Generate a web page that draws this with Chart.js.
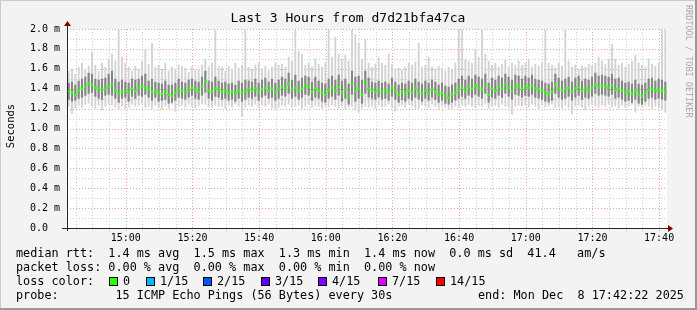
<!DOCTYPE html>
<html>
<head>
<meta charset="utf-8">
<script src="https://cdn.jsdelivr.net/npm/chart.js@4/dist/chart.umd.min.js"></script>
<style>
  html, body { margin: 0; padding: 0; background: #f3f3f3; }
  canvas { display: block; }
</style>
</head>
<body>
<canvas id="chartSmoke" width="697" height="310"></canvas>
<script>
// time axis in minutes since 14:00, one sample per minute
const startMinute = 42 + 22 / 60;
const endMinute = startMinute + 180;
const tickMinutes = [60, 80, 100, 120, 140, 160, 180, 200, 220];

const medianRtt = [
  1.37,1.36,1.34,1.38,1.40,1.42,1.45,1.44,1.41,1.40,1.39,1.40,1.43,1.44,1.38,1.35,1.37,1.38,1.36,1.40,1.38,1.41,1.42,1.41,1.39,1.37,1.38,1.36,1.35,1.37,1.34,1.33,1.36,1.39,1.38,1.36,1.40,1.41,1.39,1.37,1.42,1.48,1.38,1.37,1.40,1.39,
  1.37,1.38,1.36,1.37,1.35,1.38,1.36,1.37,1.39,1.38,1.40,1.37,1.39,1.41,1.38,1.40,1.36,1.39,1.42,1.40,1.45,1.39,1.41,1.38,1.40,1.43,1.42,1.37,1.40,1.38,1.36,1.34,1.39,1.41,1.38,1.42,1.36,1.39,1.32,1.45,1.38,1.40,1.34,1.46,1.40,
  1.38,1.37,1.39,1.37,1.38,1.36,1.41,1.38,1.34,1.37,1.35,1.38,1.36,1.40,1.37,1.35,1.38,1.36,1.39,1.37,1.34,1.36,1.33,1.31,1.34,1.36,1.39,1.41,1.38,1.42,1.40,1.43,1.41,1.39,1.44,1.34,1.40,1.38,1.42,1.40,1.44,1.41,1.38,1.43,1.42,
  1.40,1.42,1.41,1.43,1.40,1.39,1.38,1.36,1.35,1.37,1.44,1.40,1.38,1.39,1.41,1.37,1.40,1.42,1.38,1.40,1.39,1.41,1.44,1.42,1.43,1.42,1.41,1.43,1.39,1.40,1.38,1.36,1.37,1.35,1.38,1.34,1.33,1.36,1.39,1.40,1.38,1.39,1.38,1.37
];
const smokeMax = [
  1.58,1.60,1.55,1.62,1.66,1.60,1.63,1.77,1.64,1.58,1.66,1.62,1.70,1.75,1.68,1.99,1.72,1.66,1.62,1.58,1.63,1.60,1.68,1.79,1.65,1.86,1.62,1.64,1.60,1.66,1.58,1.62,1.60,1.64,1.63,1.61,1.57,1.62,1.59,1.60,1.64,1.70,1.62,1.66,1.99,1.63,
  1.62,1.58,1.63,1.60,1.66,1.61,1.64,1.99,1.62,1.60,1.64,1.66,1.60,1.63,1.58,1.62,1.66,1.64,1.65,1.62,1.72,1.68,1.99,1.78,1.75,1.64,1.66,1.62,1.70,1.65,1.62,1.66,1.99,1.72,1.92,1.75,1.70,1.74,1.68,1.99,1.95,1.86,1.70,1.90,1.66,
  1.62,1.65,1.72,1.66,1.64,1.75,1.65,1.60,1.61,1.59,1.62,1.66,1.64,1.67,1.86,1.62,1.64,1.72,1.62,1.60,1.63,1.61,1.58,1.62,1.60,1.66,1.99,1.99,1.70,1.68,1.66,1.80,1.72,1.99,1.75,1.68,1.64,1.66,1.62,1.65,1.70,1.62,1.66,1.64,1.68,
  1.64,1.66,1.70,1.62,1.65,1.63,1.66,1.99,1.66,1.64,1.62,1.66,1.63,1.99,1.68,1.62,1.64,1.60,1.63,1.62,1.65,1.63,1.66,1.72,1.68,1.65,1.70,1.85,1.70,1.64,1.66,1.62,1.65,1.68,1.74,1.66,1.64,1.62,1.70,1.65,1.63,1.66,1.99,1.99
];
const smokeMin = [
  1.22,1.15,1.20,1.23,1.21,1.24,1.25,1.22,1.20,1.23,1.18,1.22,1.24,1.23,1.21,1.19,1.22,1.20,1.21,1.24,1.22,1.23,1.25,1.21,1.22,1.20,1.23,1.21,1.19,1.22,1.20,1.24,1.17,1.22,1.23,1.21,1.24,1.22,1.20,1.23,1.25,1.24,1.22,1.21,1.23,1.22,
  1.22,1.20,1.23,1.21,1.24,1.22,1.12,1.21,1.23,1.22,1.24,1.21,1.23,1.22,1.24,1.20,1.19,1.21,1.23,1.22,1.24,1.21,1.22,1.23,1.20,1.22,1.24,1.21,1.23,1.22,1.20,1.22,1.21,1.23,1.22,1.20,1.22,1.19,1.21,1.22,1.18,1.16,1.20,1.22,1.21,
  1.22,1.20,1.23,1.21,1.22,1.24,1.21,1.17,1.22,1.23,1.21,1.24,1.22,1.20,1.20,1.23,1.22,1.21,1.24,1.22,1.20,1.22,1.21,1.19,1.20,1.22,1.21,1.23,1.22,1.24,1.22,1.21,1.23,1.22,1.24,1.20,1.22,1.23,1.21,1.24,1.22,1.21,1.14,1.22,1.23,
  1.22,1.23,1.21,1.24,1.22,1.20,1.23,1.21,1.22,1.24,1.21,1.22,1.20,1.23,1.21,1.14,1.22,1.23,1.21,1.18,1.22,1.24,1.22,1.21,1.23,1.22,1.24,1.21,1.22,1.20,1.23,1.21,1.22,1.24,1.16,1.22,1.21,1.23,1.22,1.20,1.22,1.21,1.19,1.16
];
const innerHigh = [
  1.46,1.47,1.44,1.48,1.50,1.52,1.56,1.55,1.50,1.49,1.50,1.51,1.55,1.58,1.50,1.47,1.49,1.47,1.46,1.50,1.49,1.50,1.53,1.55,1.48,1.50,1.47,1.46,1.45,1.48,1.44,1.44,1.46,1.50,1.47,1.46,1.49,1.50,1.48,1.47,1.52,1.58,1.48,1.47,1.52,1.48,
  1.46,1.47,1.45,1.46,1.44,1.48,1.46,1.49,1.48,1.47,1.50,1.46,1.49,1.51,1.47,1.50,1.46,1.49,1.52,1.50,1.56,1.49,1.54,1.48,1.51,1.53,1.52,1.47,1.52,1.48,1.46,1.45,1.50,1.53,1.49,1.54,1.48,1.50,1.45,1.58,1.52,1.53,1.49,1.58,1.51,
  1.47,1.46,1.48,1.46,1.47,1.45,1.51,1.47,1.44,1.46,1.45,1.48,1.46,1.50,1.47,1.45,1.48,1.46,1.49,1.47,1.44,1.46,1.43,1.42,1.44,1.46,1.50,1.53,1.49,1.53,1.50,1.54,1.52,1.50,1.55,1.46,1.51,1.49,1.53,1.51,1.55,1.52,1.49,1.54,1.53,
  1.50,1.53,1.51,1.54,1.50,1.49,1.48,1.46,1.45,1.47,1.55,1.51,1.48,1.50,1.52,1.47,1.51,1.53,1.48,1.50,1.49,1.52,1.56,1.53,1.54,1.53,1.52,1.55,1.50,1.51,1.48,1.46,1.47,1.45,1.49,1.45,1.44,1.46,1.50,1.51,1.48,1.50,1.49,1.47
];
const innerLow = [
  1.29,1.27,1.28,1.30,1.31,1.33,1.35,1.36,1.32,1.30,1.29,1.33,1.34,1.33,1.30,1.26,1.30,1.31,1.27,1.32,1.30,1.33,1.32,1.34,1.31,1.28,1.31,1.27,1.28,1.29,1.25,1.26,1.28,1.31,1.30,1.29,1.31,1.33,1.30,1.29,1.33,1.36,1.30,1.28,1.32,1.31,
  1.29,1.30,1.28,1.29,1.27,1.30,1.27,1.29,1.31,1.30,1.32,1.28,1.31,1.33,1.30,1.31,1.28,1.30,1.33,1.32,1.35,1.30,1.32,1.29,1.31,1.34,1.33,1.28,1.31,1.30,1.27,1.26,1.30,1.32,1.29,1.33,1.27,1.30,1.24,1.34,1.27,1.30,1.25,1.35,1.31,
  1.30,1.29,1.31,1.29,1.30,1.28,1.32,1.29,1.26,1.29,1.27,1.30,1.28,1.31,1.29,1.27,1.30,1.28,1.31,1.29,1.26,1.28,1.25,1.24,1.26,1.28,1.30,1.32,1.30,1.33,1.31,1.34,1.32,1.30,1.35,1.26,1.31,1.30,1.33,1.31,1.35,1.32,1.29,1.34,1.33,
  1.31,1.33,1.32,1.34,1.31,1.30,1.29,1.27,1.26,1.28,1.35,1.31,1.29,1.30,1.32,1.28,1.31,1.33,1.29,1.31,1.30,1.32,1.35,1.33,1.34,1.33,1.32,1.34,1.30,1.31,1.29,1.27,1.28,1.26,1.29,1.25,1.24,1.27,1.30,1.31,1.29,1.30,1.29,1.28
];

const titleText = "Last 3 Hours from d7d21bfa47ca";
const legendRows = [
  "median rtt:  1.4 ms avg  1.5 ms max  1.3 ms min  1.4 ms now  0.0 ms sd  41.4   am/s",
  "packet loss: 0.00 % avg  0.00 % max  0.00 % min  0.00 % now",
  "loss color:",
  "probe:        15 ICMP Echo Pings (56 Bytes) every 30s",
];
const endText = "end: Mon Dec  8 17:42:22 2025";
const lossLabels = ["0", "1/15", "2/15", "3/15", "4/15", "7/15", "14/15"];
const lossColors = ["#26ff00", "#00b8ff", "#0059ff", "#5e00ff", "#7e00ff", "#dd00ff", "#ff0000"];

const MONO = "'DejaVu Sans Mono', monospace";
const sampleX = medianRtt.map((_, i) => startMinute + i + 0.5);
const pad2 = (n) => String(n).padStart(2, "0");

const rrdLook = {
  id: "rrdLook",
  beforeDraw(chart) {
    const { ctx, chartArea: a } = chart;
    ctx.save();
    ctx.fillStyle = "#f3f3f3";
    ctx.fillRect(0, 0, chart.width, chart.height);
    ctx.fillStyle = "#ffffff";
    ctx.fillRect(a.left, a.top, a.right - a.left, a.bottom - a.top);
    ctx.restore();
  },
  beforeDatasetsDraw(chart) {
    const { ctx, chartArea: a, scales } = chart;
    const x = scales.x, y = scales.y;
    ctx.save();
    ctx.lineWidth = 1;
    ctx.setLineDash([1, 2]);
    for (let k = 1; k <= 20; k++) {
      const py = Math.round(y.getPixelForValue(k / 10)) + 0.5;
      ctx.strokeStyle = k % 2 === 0 ? "#f2a0a0" : "#cfcfcf";
      ctx.beginPath();
      ctx.moveTo(a.left, py);
      ctx.lineTo(a.right, py);
      ctx.stroke();
    }
    for (let t = 45; t <= endMinute; t += 5) {
      const px = Math.round(x.getPixelForValue(t)) + 0.5;
      ctx.strokeStyle = t % 20 === 0 ? "#f2a0a0" : "#cfcfcf";
      ctx.beginPath();
      ctx.moveTo(px, a.top);
      ctx.lineTo(px, a.bottom + 3);
      ctx.stroke();
    }
    ctx.restore();
  },
  afterDraw(chart) {
    const { ctx, chartArea: a } = chart;
    ctx.save();
    // axes and arrows
    ctx.strokeStyle = "#1e2a26";
    ctx.lineWidth = 1;
    ctx.beginPath();
    ctx.moveTo(a.left - 5, a.bottom + 0.5);
    ctx.lineTo(a.right + 2, a.bottom + 0.5);
    ctx.moveTo(a.left + 0.5, a.bottom + 3);
    ctx.lineTo(a.left + 0.5, a.top - 5);
    ctx.stroke();
    ctx.fillStyle = "#800000";
    ctx.beginPath();
    ctx.moveTo(a.right + 1, a.bottom - 3);
    ctx.lineTo(a.right + 6, a.bottom + 0.5);
    ctx.lineTo(a.right + 1, a.bottom + 4);
    ctx.fill();
    ctx.beginPath();
    ctx.moveTo(a.left - 3, a.top - 3);
    ctx.lineTo(a.left + 0.5, a.top - 8);
    ctx.lineTo(a.left + 4, a.top - 3);
    ctx.fill();

    // title
    ctx.fillStyle = "#000";
    ctx.font = "13px " + MONO;
    ctx.textAlign = "center";
    ctx.textBaseline = "middle";
    ctx.fillText(titleText, 348, 19);

    // vertical labels
    ctx.save();
    ctx.translate(11, 126);
    ctx.rotate(-Math.PI / 2);
    ctx.font = "10.5px " + MONO;
    ctx.fillText("Seconds", 0, 0);
    ctx.restore();
    ctx.save();
    ctx.translate(688, 5);
    ctx.rotate(Math.PI / 2);
    ctx.textAlign = "left";
    ctx.font = "8.5px " + MONO;
    ctx.fillStyle = "#a8a8a8";
    ctx.fillText("RRDTOOL / TOBI OETIKER", 0, 0);
    ctx.restore();

    // legend
    const rowY = [254, 268, 282, 296];
    ctx.font = "11.8px " + MONO;
    ctx.textAlign = "left";
    legendRows.forEach((row, i) => ctx.fillText(row, 16, rowY[i]));
    ctx.fillText(endText, 478, rowY[3]);
    const boxX = [109, 146, 203, 261, 318, 378, 436];
    lossLabels.forEach((lab, i) => {
      ctx.fillStyle = lossColors[i];
      ctx.fillRect(boxX[i], rowY[2] - 4, 8, 8);
      ctx.strokeStyle = "#000";
      ctx.strokeRect(boxX[i] + 0.5, rowY[2] - 4.5, 8, 8);
      ctx.fillStyle = "#000";
      ctx.fillText(lab, boxX[i] + 14, rowY[2]);
    });

    // frame
    ctx.fillStyle = "#cbcbcb";
    ctx.fillRect(0, 0, chart.width, 1);
    ctx.fillRect(0, 0, 1, chart.height);
    ctx.fillStyle = "#999999";
    ctx.fillRect(0, chart.height - 2, chart.width, 2);
    ctx.fillRect(chart.width - 2, 0, 2, chart.height);
    ctx.restore();
  },
};

const runChartSmoke = () => {
  const ctx = document.getElementById("chartSmoke").getContext("2d");
  const myChart = new Chart(ctx, {
    type: "bar",
    data: {
      datasets: [
        {
          type: "line",
          label: "median rtt",
          data: sampleX.map((x, i) => ({ x, y: medianRtt[i] })),
          showLine: false,
          pointStyle: "rect",
          pointRadius: 1.8,
          pointBorderWidth: 0,
          pointBackgroundColor: "#26ff00",
          order: 0,
        },
        {
          label: "inner smoke",
          data: sampleX.map((x, i) => ({ x, y: [innerLow[i], innerHigh[i]] })),
          backgroundColor: "#868686",
          grouped: false,
          barPercentage: 0.65,
          categoryPercentage: 1,
          order: 1,
        },
        {
          label: "outer smoke",
          data: sampleX.map((x, i) => ({ x, y: [smokeMin[i], smokeMax[i]] })),
          backgroundColor: "#d2d2d2",
          grouped: false,
          barPercentage: 0.55,
          categoryPercentage: 1,
          order: 2,
        },
      ],
    },
    options: {
      responsive: false,
      animation: false,
      layout: { padding: { left: 0, top: 29, right: 30, bottom: 0 } },
      plugins: { legend: { display: false }, tooltip: { enabled: false } },
      scales: {
        x: {
          type: "linear",
          min: startMinute,
          max: endMinute,
          offset: false,
          grid: { display: false, offset: false, drawTicks: false },
          border: { display: false },
          afterBuildTicks: (scale) => {
            scale.ticks = tickMinutes.map((v) => ({ value: v }));
          },
          afterFit: (scale) => {
            scale.height = 82;
          },
          ticks: {
            autoSkip: false,
            maxRotation: 0,
            padding: 4,
            color: "#000",
            font: { family: MONO, size: 10 },
            callback: (v) => pad2(Math.floor(v / 60) + 14) + ":" + pad2(v % 60),
          },
        },
        y: {
          min: 0,
          max: 2.0,
          grid: { display: false, drawTicks: false },
          border: { display: false },
          afterFit: (scale) => {
            scale.width = 67;
          },
          ticks: {
            stepSize: 0.2,
            padding: 7,
            color: "#000",
            font: { family: MONO, size: 10 },
            callback: (v) => (v === 0 ? "0.0  " : v.toFixed(1) + " m"),
          },
        },
      },
    },
    plugins: [rrdLook],
  });
};

runChartSmoke();
</script>
</body>
</html>
